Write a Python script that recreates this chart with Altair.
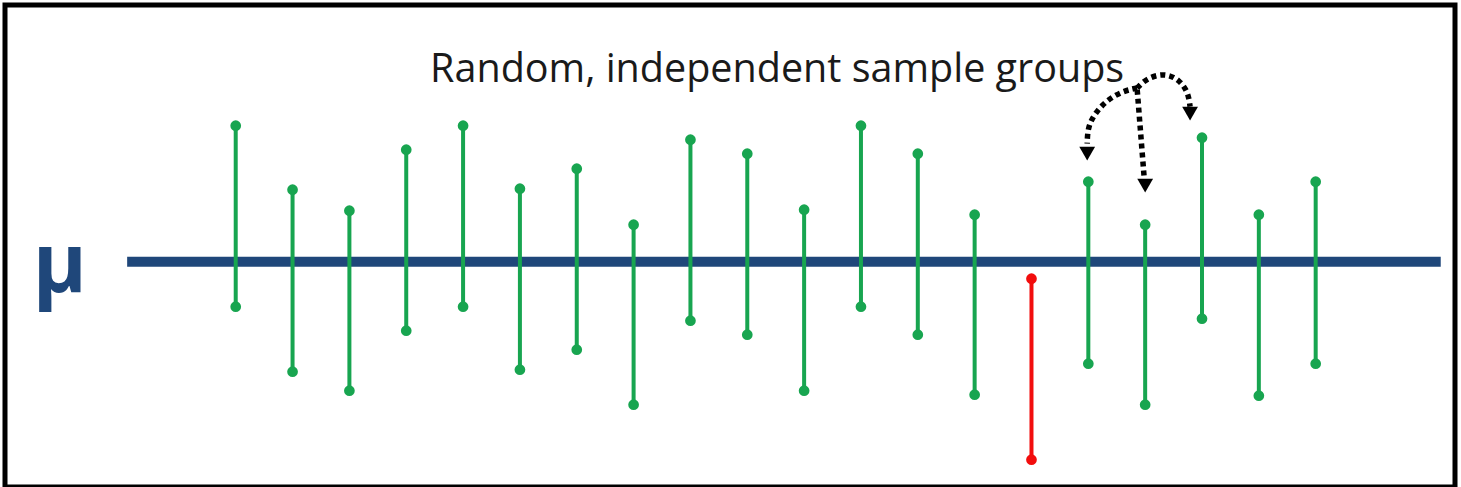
import altair as alt
import pandas as pd

# ---- data (values relative to the population mean mu = 0) ----
sample = list(range(1, 21))
upper = [13.6, 7.2, 5.1, 11.2, 13.6, 7.3, 9.3, 3.7, 12.2, 10.8,
         5.2, 13.6, 10.8, 4.7, -1.7, 8.0, 3.7, 12.4, 4.7, 8.0]
lower = [-4.5, -11.0, -12.9, -6.9, -4.5, -10.8, -8.8, -14.3, -5.9, -7.3,
         -12.9, -4.5, -7.3, -13.3, -19.8, -10.2, -14.3, -5.7, -13.4, -10.2]
mu = 0.0
mu_span = [-0.91, 22.2]

# annotation arrows (sample index, value)
arrow_path = ["a", "a", "a", "a", "a", "a",
              "b", "b",
              "c", "c", "c", "c", "c", "c"]
arrow_x = [16.86, 16.61, 16.33, 16.12, 15.99, 15.98,
           16.86, 16.98,
           16.86, 17.03, 17.35, 17.61, 17.76, 17.79]
arrow_y = [17.37, 17.07, 16.17, 14.87, 13.47, 11.8,
           17.2, 8.6,
           17.37, 18.37, 18.87, 18.17, 16.87, 15.5]
head_x = [15.98, 17.0, 17.79]
head_y = [10.8, 7.6, 14.8]

title_text = "Random, independent sample groups"
title_pos = (4.42, 17.97)
mu_label_pos = (-2.57, -3.03)

GREEN = "#18a550"
RED = "#f20d0d"
BLUE = "#1f477a"

status = ["hit" if lo <= mu <= up else "miss" for lo, up in zip(lower, upper)]
ci = pd.DataFrame({"sample": sample, "lower": lower, "upper": upper, "status": status})
ends = pd.concat([
    pd.DataFrame({"sample": sample, "v": upper, "status": status}),
    pd.DataFrame({"sample": sample, "v": lower, "status": status}),
])
mu_df = pd.DataFrame({"x": [mu_span[0]], "x2": [mu_span[1]], "y": [mu]})
arrows = pd.DataFrame({"path": arrow_path, "x": arrow_x, "y": arrow_y,
                       "o": list(range(len(arrow_x)))})
heads = pd.DataFrame({"x": head_x, "y": head_y})
labels = pd.DataFrame({"x": [title_pos[0]], "y": [title_pos[1]], "t": [title_text]})
mulab = pd.DataFrame({"x": [mu_label_pos[0]], "y": [mu_label_pos[1]], "t": ["μ"]})

xs = alt.Scale(domain=[-3.059, 22.451], nice=False, zero=False)
ys = alt.Scale(domain=[-22.53, 25.67], nice=False, zero=False)
col = alt.Color("status:N", scale=alt.Scale(domain=["hit", "miss"], range=[GREEN, RED]), legend=None)

def X(f):
    return alt.X(f, scale=xs, axis=None)

def Y(f):
    return alt.Y(f, scale=ys, axis=None)

mu_line = alt.Chart(mu_df).mark_rule(color=BLUE, strokeWidth=10).encode(
    x=X("x:Q"), x2="x2:Q", y=Y("y:Q"))

rules = alt.Chart(ci).mark_rule(strokeWidth=4).encode(
    x=X("sample:Q"), y=Y("lower:Q"), y2="upper:Q", color=col)

dots = alt.Chart(ends).mark_circle(size=115, opacity=1).encode(
    x=X("sample:Q"), y=Y("v:Q"), color=col)

arrow_lines = alt.Chart(arrows).mark_line(
    color="black", strokeWidth=5.5, strokeDash=[5, 4], interpolate="basis", strokeCap="butt"
).encode(x=X("x:Q"), y=Y("y:Q"), detail="path:N", order="o:Q")

arrow_heads = alt.Chart(heads).mark_point(
    shape="triangle-down", filled=True, color="black", size=250, opacity=1
).encode(x=X("x:Q"), y=Y("y:Q"))

title = alt.Chart(labels).mark_text(
    align="left", baseline="alphabetic", font="Open Sans", fontSize=39.5, color="#1a1a1a"
).encode(x=X("x:Q"), y=Y("y:Q"), text="t:N")

mu_text = alt.Chart(mulab).mark_text(
    align="left", baseline="alphabetic", font="Open Sans", fontSize=82,
    fontWeight="bold", color=BLUE
).encode(x=X("x:Q"), y=Y("y:Q"), text="t:N")

chart = alt.layer(mu_line, rules, dots, arrow_lines, arrow_heads, title, mu_text).properties(
    width=1450, height=482,
    padding={"left": 5, "top": 5, "right": 6, "bottom": 0},
    autosize=alt.AutoSizeParams(type="none"),
    background="white",
).configure_view(stroke="black", strokeWidth=5)

chart.save("out.html", embed_options={"renderer": "svg", "actions": False})
